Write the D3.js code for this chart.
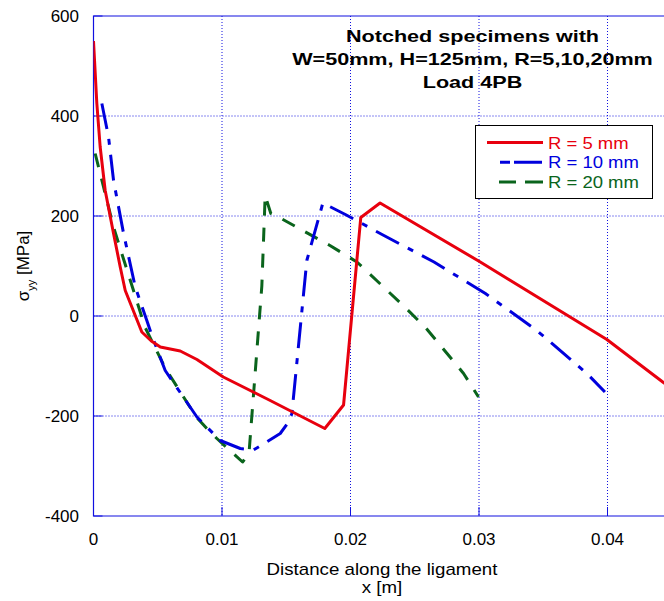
<!DOCTYPE html>
<html>
<head>
<meta charset="utf-8">
<script src="https://cdn.jsdelivr.net/npm/d3@7"></script>
<style>
  body { margin: 0; background: #fff; }
  text { font-family: "Liberation Sans", Arial, sans-serif; }
</style>
</head>
<body>
<script>
// R = 5 mm
var r5X = [0, 0.00026, 0.00052, 0.00091, 0.00156, 0.00208, 0.00247, 0.00376, 0.0045, 0.0052, 0.00675, 0.00805, 0.0101, 0.01375, 0.018, 0.01946, 0.0208, 0.0223, 0.0301, 0.03995, 0.0443, 0.0452];
var r5Y = [550, 425, 338, 251, 165, 98, 51, -32, -50, -62, -70, -87, -122, -169, -225, -178, 197, 226, 108, -47, -132, -150];
// R = 10 mm
var r10X = [0.00065, 0.00117, 0.00156, 0.00234, 0.00325, 0.00415, 0.00454, 0.00558, 0.00805, 0.00986, 0.01142, 0.01245, 0.01453, 0.01518, 0.01544, 0.0166, 0.01785, 0.0196, 0.0226, 0.0265, 0.0305, 0.0345, 0.0384, 0.0398];
var r10Y = [425, 358, 271, 165, 58, -9, -39, -109, -202, -249, -265, -268, -235, -212, -195, 111, 226, 203, 161, 108, 45, -29, -115, -152];
// R = 20 mm
var r20X = [0.00013, 0.00078, 0.00156, 0.0022, 0.0031, 0.004, 0.0056, 0.008, 0.00882, 0.0096, 0.0116, 0.0121, 0.0131, 0.01336, 0.0138, 0.0146, 0.0184, 0.0205, 0.0241, 0.0259, 0.0288, 0.02996];
var r20Y = [325, 258, 178, 125, 52, -22, -105, -202, -225, -245, -292, -275, 60, 241, 205, 195, 141, 108, 21, -25, -115, -162];

var xTicks = [0, 0.01, 0.02, 0.03, 0.04];
var yTicks = [-400, -200, 0, 200, 400, 600];
var seriesNames = ["R = 5 mm", "R = 10 mm", "R = 20 mm"];
var titleLines = ["Notched specimens with", "W=50mm, H=125mm, R=5,10,20mm", "Load 4PB"];

var W = 664, H = 601;
var plotLeft = 93.5, plotTop = 16, plotBottom = 516;

var svg = d3.select("body").append("svg")
    .attr("width", W)
    .attr("height", H);

var x = d3.scaleLinear().domain([0, 0.045]).range([plotLeft, plotLeft + 0.045 * 12850]);
var y = d3.scaleLinear().domain([-400, 600]).range([plotBottom, plotTop]);

var gridColor = "#1010e0";

// stretch text horizontally (the original export is wider than normal glyphs)
function stretch(sel, k) {
    sel.each(function () {
        var w = this.getComputedTextLength();
        d3.select(this).attr("textLength", w * k).attr("lengthAdjust", "spacingAndGlyphs");
    });
}

svg.append("clipPath").attr("id", "plot")
    .append("rect")
    .attr("x", x(0)).attr("y", y(600))
    .attr("width", x(0.045) - x(0)).attr("height", y(-400) - y(600));

// grid
svg.append("g").selectAll("line")
    .data(xTicks.slice(1))
    .enter().append("line")
    .attr("x1", function (d) { return x(d); })
    .attr("x2", function (d) { return x(d); })
    .attr("y1", y(600)).attr("y2", y(-400))
    .attr("stroke", gridColor).attr("stroke-dasharray", "1,2");

svg.append("g").selectAll("line")
    .data(yTicks.slice(1, -1))
    .enter().append("line")
    .attr("y1", function (d) { return y(d); })
    .attr("y2", function (d) { return y(d); })
    .attr("x1", x(0)).attr("x2", W)
    .attr("stroke", gridColor).attr("stroke-dasharray", "1,2");

// inner ticks
svg.append("g").selectAll("line")
    .data(xTicks)
    .enter().append("line")
    .attr("x1", function (d) { return x(d); })
    .attr("x2", function (d) { return x(d); })
    .attr("y1", y(-400)).attr("y2", y(-400) - 9)
    .attr("stroke", gridColor);

svg.append("g").selectAll("line")
    .data(yTicks)
    .enter().append("line")
    .attr("y1", function (d) { return y(d); })
    .attr("y2", function (d) { return y(d); })
    .attr("x1", x(0)).attr("x2", x(0) + 9)
    .attr("stroke", gridColor);

// box
svg.append("path")
    .attr("d", "M" + W + " " + y(600) + "H" + x(0) + "V" + y(-400) + "H" + W)
    .attr("fill", "none").attr("stroke", gridColor).attr("stroke-width", 1.2);

// tick labels
svg.append("g").selectAll("text")
    .data(xTicks)
    .enter().append("text")
    .attr("x", function (d) { return x(d); })
    .attr("y", 545)
    .attr("text-anchor", "middle")
    .style("font-size", "17px")
    .text(function (d) { return d; });

svg.append("g").selectAll("text")
    .data(yTicks)
    .enter().append("text")
    .attr("x", 79)
    .attr("y", function (d) { return y(d) + 6; })
    .attr("text-anchor", "end")
    .style("font-size", "17px")
    .text(function (d) { return d; });

// axis labels
var xl = svg.append("g").selectAll("text")
    .data(["Distance along the ligament", "x [m]"])
    .enter().append("text")
    .attr("x", 382)
    .attr("y", function (d, i) { return 575 + i * 18; })
    .attr("text-anchor", "middle")
    .style("font-size", "17px")
    .text(function (d) { return d; });
stretch(xl, 1.1);

var yl = svg.append("text")
    .attr("transform", "translate(29,266) rotate(-90)")
    .attr("text-anchor", "middle")
    .style("font-size", "17px");
yl.append("tspan").text("σ");
yl.append("tspan").attr("dy", 6).style("font-size", "11px").text("yy");
yl.append("tspan").attr("dy", -6).text(" [MPa]");

// curves
var series = [
    {xs: r5X, ys: r5Y, color: "#e8000e", dash: null, key: null},
    {xs: r10X, ys: r10Y, color: "#0000dd", dash: "26,10,6,10", key: "0,13,10,4,28,10"},
    {xs: r20X, ys: r20Y, color: "#0a641c", dash: "14,12", key: "0,12,17,9,20,10"}
];

var line = d3.line()
    .x(function (d) { return x(d[0]); })
    .y(function (d) { return y(d[1]); });

svg.append("g").attr("clip-path", "url(#plot)")
    .selectAll("path")
    .data(series.slice().reverse())
    .enter().append("path")
    .attr("d", function (s) { return line(d3.zip(s.xs, s.ys)); })
    .attr("fill", "none")
    .attr("stroke", function (s) { return s.color; })
    .attr("stroke-width", 3)
    .attr("stroke-linejoin", "round")
    .attr("stroke-dasharray", function (s) { return s.dash; });

// title
var tt = svg.append("g").selectAll("text")
    .data(titleLines)
    .enter().append("text")
    .attr("x", 472.5)
    .attr("y", function (d, i) { return 42 + i * 23; })
    .attr("text-anchor", "middle")
    .style("font-size", "17px")
    .style("font-weight", "bold")
    .text(function (d) { return d; });
stretch(tt, 1.27);

// legend
var lg = svg.append("g");
lg.append("rect")
    .attr("x", 475.5).attr("y", 125.5)
    .attr("width", 177).attr("height", 73)
    .attr("fill", "#fff").attr("stroke", "#000");

var rows = lg.selectAll("g.row")
    .data(series)
    .enter().append("g")
    .attr("class", "row")
    .attr("transform", function (d, i) { return "translate(0," + (142.5 + i * 19.7) + ")"; });

rows.append("line")
    .attr("x1", 487).attr("x2", 543)
    .attr("stroke", function (s) { return s.color; })
    .attr("stroke-width", 3)
    .attr("stroke-dasharray", function (s) { return s.key; });

var lt = rows.append("text")
    .attr("x", 548).attr("y", 6)
    .style("font-size", "16.5px")
    .attr("fill", function (s) { return s.color; })
    .text(function (s, i) { return seriesNames[i]; });
stretch(lt, 1.12);
</script>
</body>
</html>
